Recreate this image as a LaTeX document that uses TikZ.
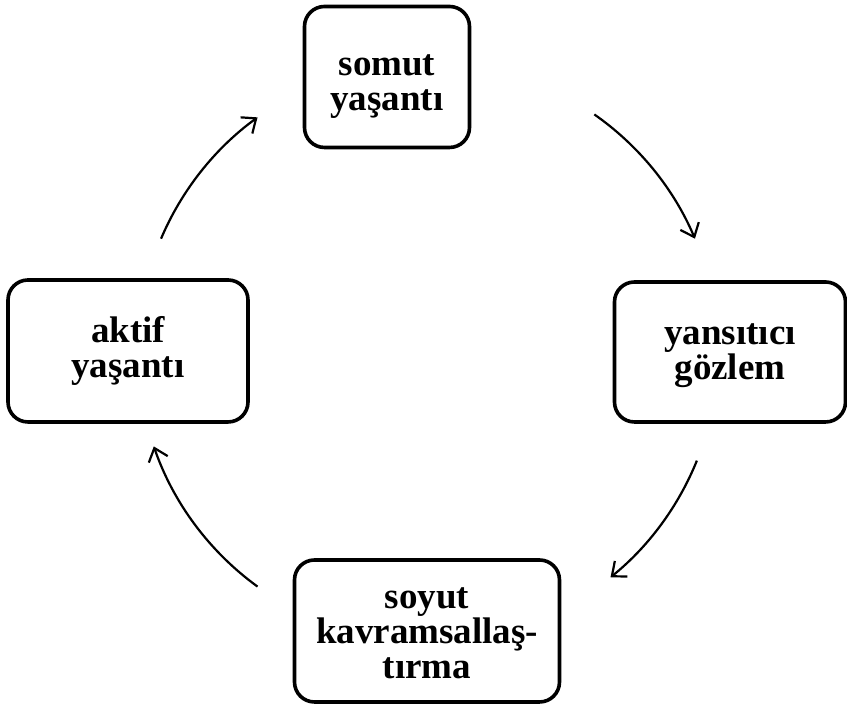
\documentclass[tikz,border=0pt]{standalone}
\usepackage{fontspec}
\setmainfont{Liberation Serif}
\usetikzlibrary{arrows.meta,calc}

\begin{document}
\begin{tikzpicture}[x=0.5pt,y=0.5pt,>={Straight Barb[length=6pt,width=10pt]},
    box/.style={draw,line width=1.8pt,rounded corners=10pt,align=center,inner sep=0pt,
      font=\fontsize{18.5}{17.5}\selectfont\bfseries},
    cyc/.style={->,line width=1.1pt}]
  \useasboundingbox (0,0) rectangle (847,704);

  \node[box,minimum width=82.5pt,minimum height=70.5pt]  (somut) at (387,627) {\rule{0pt}{20pt}somut\\yaşantı};
  \node[box,minimum width=115.5pt,minimum height=70pt]   (yans)  at (730,352) {\rule{0pt}{14pt}yansıtıcı\\gözlem};
  \node[box,minimum width=132.5pt,minimum height=71pt]   (soyut) at (427,73)  {\rule{0pt}{13pt}soyut\\kavramsallaş-\\tırma};
  \node[box,minimum width=120pt,minimum height=71pt]     (aktif) at (128,353) {aktif\\yaşantı};

  \coordinate (c) at (428,352);
  \foreach \a/\b [count=\i] in {55/23, -22/-51, -126/-161, 157/126} {
    \coordinate (s\i) at ($(c)+(\a:145pt)$);
    \draw[cyc] (s\i) arc[start angle=\a, end angle=\b, radius=145pt];
  }
\end{tikzpicture}
\end{document}
